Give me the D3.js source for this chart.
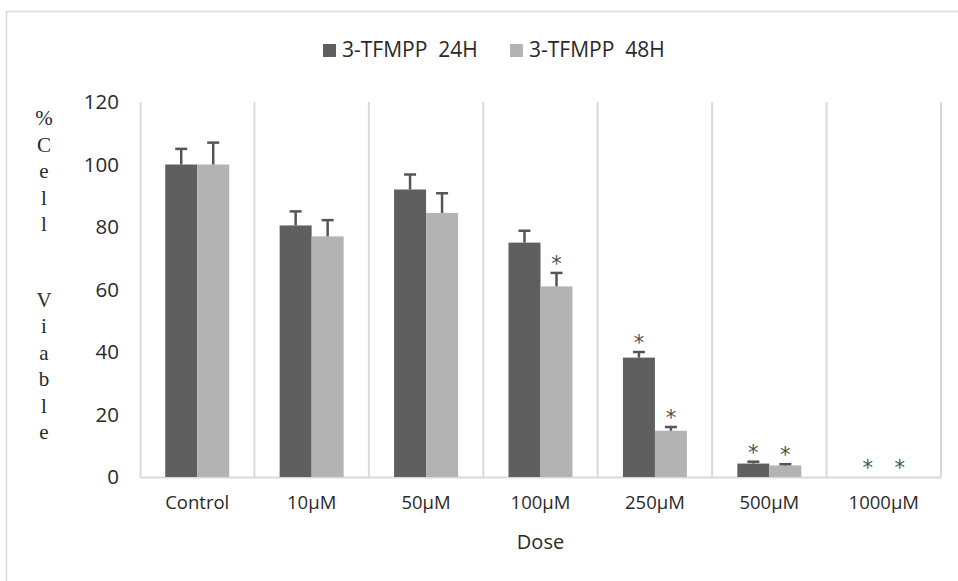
<!DOCTYPE html>
<html>
<head>
<meta charset="utf-8">
<script src="https://cdn.jsdelivr.net/npm/d3@7/dist/d3.min.js"></script>
<style>
  html, body { margin: 0; padding: 0; background: #fff; }
  svg { display: block; }
</style>
</head>
<body>
<svg id="chart" width="958" height="581"></svg>
<script>
const categories = ["Control", "10µM", "50µM", "100µM", "250µM", "500µM", "1000µM"];
const seriesNames = ["3-TFMPP  24H", "3-TFMPP  48H"];
const values24 = [100, 80.5, 92, 75, 38.2, 4.3, 0];
const errors24 = [5, 4.5, 4.8, 3.8, 1.8, 0.6, 0];
const values48 = [100, 77, 84.5, 61, 14.8, 3.7, 0];
const errors48 = [7, 5.2, 6.3, 4.3, 1.2, 0.4, 0];
const signif24 = [false, false, false, false, true, true, true];
const signif48 = [false, false, false, true, true, true, true];
const yTicks = [0, 20, 40, 60, 80, 100, 120];
const yLabelLines = ["%", "C", "e", "l", "l", "", "V", "i", "a", "b", "l", "e"];
const xTitle = "Dose";

const colors = ["#5f5f5f", "#b3b3b3"];
const gridColor = "#d9d9d9";
const textColor = "#2a2a2a";

(function () {
const svg = d3.select("#chart");
const mLeft = 140, mRight = 941, mTop = 102, mBottom = 477;

// outer frame
svg.append("rect").attr("x", 6.5).attr("y", 11.5).attr("width", 1200).attr("height", 1200)
  .attr("fill", "none").attr("stroke", gridColor).attr("stroke-width", 1.5);

const x = d3.scaleBand().domain(categories).range([mLeft, mRight]).paddingInner(0).paddingOuter(0);
const bw = x.bandwidth();
const x1 = d3.scaleBand().domain(seriesNames).range([bw / 2 - 32, bw / 2 + 32]);
const y = d3.scaleLinear().domain([0, 120]).range([mBottom, mTop]);

// category separators
svg.append("g").selectAll("line").data(categories).join("line")
  .attr("x1", d => x(d) + bw).attr("x2", d => x(d) + bw)
  .attr("y1", y(120)).attr("y2", y(0))
  .attr("stroke", gridColor).attr("stroke-width", 2);

// y axis
const yAxis = svg.append("g").attr("transform", `translate(${mLeft},0)`)
  .call(d3.axisLeft(y).tickValues(yTicks).tickSize(0).tickPadding(21));
yAxis.select(".domain").attr("stroke", gridColor).attr("stroke-width", 2);
yAxis.selectAll("text").attr("font-family", "Open Sans").attr("font-size", 20.5).attr("fill", textColor);

// x axis
const xAxis = svg.append("g").attr("transform", `translate(0,${mBottom})`)
  .call(d3.axisBottom(x).tickSize(0).tickPadding(19));
xAxis.select(".domain").attr("stroke", gridColor).attr("stroke-width", 2);
xAxis.selectAll("text").attr("font-family", "Open Sans").attr("font-size", 18.5).attr("fill", textColor);

// data rows
const rows = categories.map((c, i) => ({
  cat: c,
  items: [
    { s: seriesNames[0], v: values24[i], e: errors24[i], sig: signif24[i], color: colors[0] },
    { s: seriesNames[1], v: values48[i], e: errors48[i], sig: signif48[i], color: colors[1] }
  ]
}));

const g = svg.append("g").selectAll("g").data(rows).join("g")
  .attr("transform", d => `translate(${x(d.cat)},0)`);

g.selectAll("rect").data(d => d.items).join("rect")
  .attr("x", d => x1(d.s)).attr("width", x1.bandwidth())
  .attr("y", d => y(d.v)).attr("height", d => y(0) - y(d.v))
  .attr("fill", d => d.color);

// error bars (upper only)
const eb = g.selectAll("g.err").data(d => d.items.filter(it => it.e > 0)).join("g").attr("class", "err");
eb.append("line")
  .attr("x1", d => x1(d.s) + x1.bandwidth() / 2).attr("x2", d => x1(d.s) + x1.bandwidth() / 2)
  .attr("y1", d => y(d.v)).attr("y2", d => y(d.v + d.e))
  .attr("stroke", "#555").attr("stroke-width", 2.5);
eb.append("line")
  .attr("x1", d => x1(d.s) + x1.bandwidth() / 2 - 6).attr("x2", d => x1(d.s) + x1.bandwidth() / 2 + 6)
  .attr("y1", d => y(d.v + d.e)).attr("y2", d => y(d.v + d.e))
  .attr("stroke", "#555").attr("stroke-width", 2.5);

// significance stars
g.selectAll("text.star").data(d => d.items.filter(it => it.sig)).join("text").attr("class", "star")
  .attr("x", d => x1(d.s) + x1.bandwidth() / 2)
  .attr("y", d => y(d.v + d.e) - 2)
  .attr("text-anchor", "middle")
  .attr("font-family", "DejaVu Sans").attr("font-size", 21).attr("fill", "#505050")
  .text("*");

// legend
const legendX = [323, 510];
seriesNames.forEach((s, i) => {
  svg.append("rect").attr("x", legendX[i]).attr("y", 44).attr("width", 13).attr("height", 13).attr("fill", colors[i]);
  svg.append("text").attr("x", legendX[i] + 19).attr("y", 57).attr("xml:space", "preserve")
    .style("white-space", "pre")
    .attr("font-family", "Open Sans").attr("font-size", 21).attr("fill", textColor).text(s);
});

// y axis title (stacked letters)
const yl = svg.append("text").attr("font-family", "Liberation Serif").attr("font-size", 21)
  .attr("fill", textColor).attr("text-anchor", "middle");
let yy = 125, prevBlank = false;
yLabelLines.forEach((ch, i) => {
  if (i > 0) yy += prevBlank ? 49 : 26.5;
  prevBlank = ch === "";
  if (ch !== "") yl.append("tspan").attr("x", 44).attr("y", yy).text(ch);
});

// x axis title
svg.append("text").attr("x", (mLeft + mRight) / 2).attr("y", 549).attr("text-anchor", "middle")
  .attr("font-family", "Open Sans").attr("font-size", 20).attr("fill", textColor).text(xTitle);
})();
</script>
</body>
</html>
